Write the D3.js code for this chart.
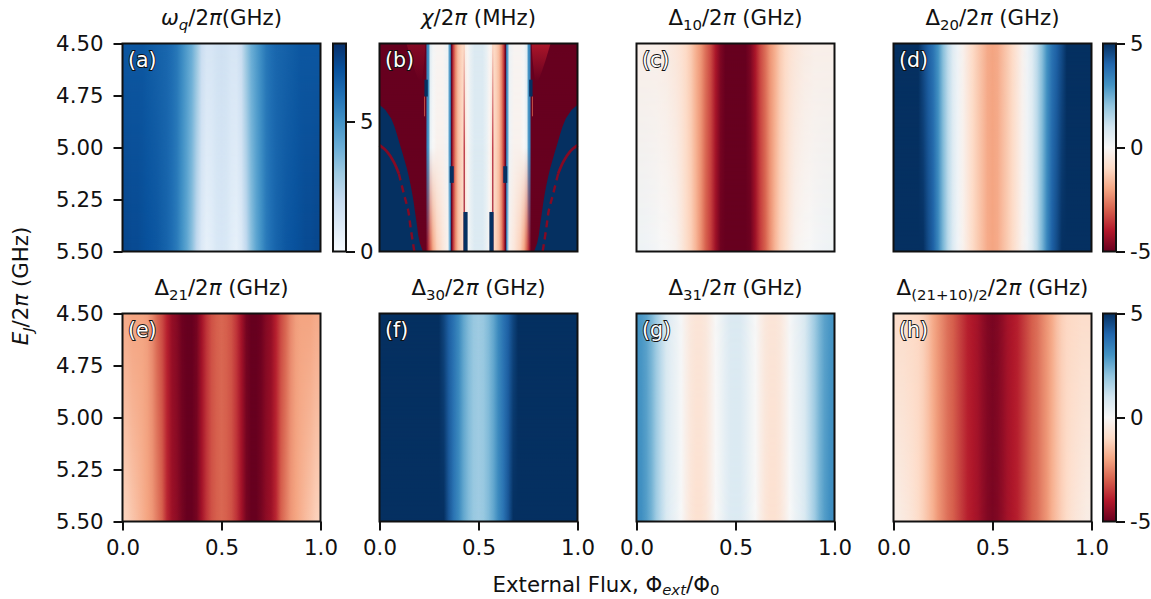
<!DOCTYPE html>
<html>
<head>
<meta charset="utf-8">
<script src="https://cdn.jsdelivr.net/npm/d3@7"></script>
<style>
  html, body { margin: 0; background: #fff; }
  svg { display: block; }
  text { font-family: "DejaVu Sans", sans-serif; fill: #111; }
</style>
</head>
<body>
<svg id="chart" width="1151" height="599"></svg>
<script>
// flux samples from 0 to 0.5, the pictures are mirrored around 0.5
const fluxGrid = [0, .025, .05, .075, .1, .125, .15, .175, .2, .225, .25, .275, .3, .325, .35, .375, .4, .425, .45, .475, .5];

const omegaTop = [6.8, 6.8, 6.8, 6.8, 6.8, 6.7, 6.6, 6.5, 6.4, 6.3, 6.1, 5.8, 5.2, 4.6, 4, 3.1, 1.8, 1.3, 1.3, 1.5, 1.6];
const omegaBottom = [7.3, 7.3, 7.2, 7.2, 7.1, 7, 6.9, 6.8, 6.6, 6.4, 6.1, 5.7, 5, 4.3, 3.4, 2.1, 1.1, .7, .9, 1.2, 1.3];

const d10Top = [-.3, -.3, -.3, -.3, -.3, -.35, -.4, -.5, -.6, -.75, -1, -1.3, -1.8, -2.2, -2.8, -3.3, -4.1, -4.7, -5, -5, -5];
const d10Bottom = [.25, .25, .2, .15, .1, 0, -.05, -.1, -.2, -.5, -.9, -1.2, -1.7, -2.3, -3, -3.5, -4.3, -4.9, -5, -5, -5];

const d20Top = [8, 8, 7.5, 6.5, 5.5, 5, 4.5, 4.1, 3.7, 3, 2.1, 1.3, .6, .2, -.2, -.6, -1, -1.3, -1.6, -1.9, -2];
const d20Bottom = [8, 8, 7.5, 6.5, 5.8, 5.3, 5, 4.5, 4.1, 3.3, 2.3, 1.4, .7, .2, -.2, -.6, -1, -1.3, -1.6, -1.9, -2];

const d21Top = [-1.9, -1.9, -2, -2, -2, -2.1, -2.4, -2.9, -3.3, -3.9, -4.4, -4.6, -4.9, -5, -5, -4.8, -4.2, -3.6, -3.2, -3, -2.9];
const d21Bottom = [-1.1, -1.2, -1.4, -1.6, -1.8, -2, -2.2, -2.6, -3, -3.8, -4.3, -4.5, -4.8, -5, -5, -4.8, -4.2, -3.6, -3.2, -3, -2.9];

const d30Top = [8, 8, 8, 8, 8, 8, 8, 8, 8, 8, 8, 7, 5.5, 4.6, 4.1, 3.7, 3.2, 2.6, 2.2, 1.9, 1.8];
const d30Bottom = [8, 8, 8, 8, 8, 8, 8, 8, 8, 8, 8, 7.5, 6, 5, 4.3, 3.7, 3.2, 2.6, 2.2, 1.9, 1.8];

const d31Top = [3, 2.9, 2.7, 2.3, 1.8, 1.3, .8, .5, .3, .05, -.3, -.55, -.65, -.65, -.55, -.3, 0, .25, .5, .7, .75];
const d31Bottom = [3.2, 3.1, 2.8, 2.4, 1.8, 1.3, .8, .5, .3, 0, -.35, -.65, -.8, -.8, -.65, -.35, 0, .25, .5, .7, .75];

const dAvgTop = [-.9, -.9, -.9, -.95, -1, -1.05, -1.2, -1.5, -1.9, -2.2, -2.5, -2.8, -3, -3.3, -3.6, -3.9, -4.05, -4.2, -4.45, -4.65, -4.75];
const dAvgBottom = [-.35, -.4, -.5, -.6, -.75, -.95, -1.2, -1.5, -1.8, -2.2, -2.5, -2.8, -3, -3.3, -3.6, -3.9, -4.05, -4.2, -4.45, -4.65, -4.75];

// chi has narrow lines, so it gets its own flux samples and a middle row
const chiFlux = [0, .228, .234, .24, .248, .256, .27, .29, .32, .345, .352, .358, .364, .372, .384, .396, .41, .422, .428, .434, .445, .46, .48, .5];
const chiTop = [-8, -8, -8, 3.4, 3, .6, .1, -.1, -.1, .3, 2.6, 3.4, -5, -3.6, -2.4, -1.6, -1.2, -1, -1.1, -.3, -.1, .4, .7, .7];
const chiMiddle = [-8, -8, -6, 3.4, 2.8, .4, 0, -.2, -.2, .2, 2.6, 3.4, -5, -3.6, -2.4, -1.6, -1.2, -1, -4, -.6, -.1, .4, .7, .7];
const chiBottom = [-8, -8, -5, -4.5, -3.6, -3, -2, -1.2, -.6, -.2, 1.8, 3.4, -5, -3.6, -2.4, -1.6, -1.2, -1, -4.5, -.6, -.1, .4, .7, .7];

// saturated blue area of chi, outer flanks
const chiBlueEj = [4.795, 4.82, 4.86, 4.9, 4.94, 4.98, 5.02, 5.06, 5.1, 5.14, 5.18, 5.22, 5.26, 5.3, 5.34, 5.38, 5.42, 5.46, 5.5];
const chiBlueFlux = [0, .03, .059, .076, .089, .101, .114, .126, .138, .148, .157, .165, .172, .178, .184, .19, .195, .204, .219];

// thin dark red arc inside the blue area
const chiArcEj = [4.989, 5.021, 5.069, 5.126, 5.223, 5.303, 5.384, 5.465, 5.5];
const chiArcFlux = [0, .039, .072, .098, .123, .145, .157, .17, .176];

// lighter fan at the top of chi
const chiFanEj = [4.5, 4.577, 4.64, 4.68];
const chiFanFrom = [.136, .16, .182, .199];
const chiFanTo = [.232, .227, .22, .215];
const chiFanLevels = [-4.6, -4.1];

// saturated vertical pieces, [flux from, flux to, EJ from, EJ to, value]
const chiBars = [
  [.227, .244, 4.674, 4.755, 20],
  [.226, .23, 4.755, 4.85, -3],
  [.355, .375, 5.09, 5.17, 20],
  [.424, .445, 5.31, 5.5, 20],
];

const ejTicks = [4.5, 4.75, 5, 5.25, 5.5];
const fluxTicks = [0, .5, 1];
const omegaTicks = [0, 5];
const deltaTicks = [-5, 0, 5];

const panels = [
  { tag: "(a)", col: 0, row: 0, map: "blues", flux: fluxGrid, rows: [[4.5, omegaTop], [5.5, omegaBottom]],
    title: [["ω", "i"], ["q", "is"], ["/2"], ["π", "i"], ["(GHz)"]] },
  { tag: "(b)", col: 1, row: 0, map: "rdbu", flux: chiFlux, rows: [[4.5, chiTop], [5, chiMiddle], [5.5, chiBottom]],
    title: [["χ", "i"], ["/2"], ["π", "i"], [" (MHz)"]] },
  { tag: "(c)", col: 2, row: 0, map: "rdbu", flux: fluxGrid, rows: [[4.5, d10Top], [5.5, d10Bottom]],
    title: [["Δ"], ["10", "s"], ["/2"], ["π", "i"], [" (GHz)"]] },
  { tag: "(d)", col: 3, row: 0, map: "rdbu", flux: fluxGrid, rows: [[4.5, d20Top], [5.5, d20Bottom]],
    title: [["Δ"], ["20", "s"], ["/2"], ["π", "i"], [" (GHz)"]] },
  { tag: "(e)", col: 0, row: 1, map: "rdbu", flux: fluxGrid, rows: [[4.5, d21Top], [5.5, d21Bottom]],
    title: [["Δ"], ["21", "s"], ["/2"], ["π", "i"], [" (GHz)"]] },
  { tag: "(f)", col: 1, row: 1, map: "rdbu", flux: fluxGrid, rows: [[4.5, d30Top], [5.5, d30Bottom]],
    title: [["Δ"], ["30", "s"], ["/2"], ["π", "i"], [" (GHz)"]] },
  { tag: "(g)", col: 2, row: 1, map: "rdbu", flux: fluxGrid, rows: [[4.5, d31Top], [5.5, d31Bottom]],
    title: [["Δ"], ["31", "s"], ["/2"], ["π", "i"], [" (GHz)"]] },
  { tag: "(h)", col: 3, row: 1, map: "rdbu", flux: fluxGrid, rows: [[4.5, dAvgTop], [5.5, dAvgBottom]],
    title: [["Δ"], ["(21+10)/2", "s"], ["/2"], ["π", "i"], [" (GHz)"]] },
];

const plotW = 198;
const plotH = 208;
const colX = [122.5, 379.5, 636.5, 893.5];
const rowY = [43.5, 313.5];
const fontSize = 21.3;

const svg = d3.select("#chart");
const defs = svg.append("defs");

// same piecewise linear ramps as the original colormaps
const rdbu = d3.scaleLinear().domain(d3.range(-5, 5.5, 1)).range(d3.schemeRdBu[11]).clamp(true);
const blues = d3.scaleLinear().domain(d3.range(0, 9, 1)).range(d3.schemeBlues[9]).clamp(true);
const maps = { rdbu, blues };

const x = d3.scaleLinear().domain([0, 1]).range([0, plotW]);
const y = d3.scaleLinear().domain([4.5, 5.5]).range([0, plotH]);

function mirrored(flux, values) {
  const pts = flux.map((f, i) => [f, values[i]]);
  const back = pts.slice(0, -1).reverse().map((p) => [1 - p[0], p[1]]);
  return pts.concat(back);
}

// writes title pieces, "i" italic, "s" subscript
function mathText(sel, pieces, size, drop = 0.25) {
  let lowered = false;
  pieces.forEach((p) => {
    const kind = p[1] || "";
    const sub = kind.includes("s");
    const ts = sel.append("tspan").text(p[0]);
    if (kind.includes("i")) ts.attr("font-style", "italic");
    if (sub && !lowered) ts.attr("dy", size * drop);
    if (!sub && lowered) ts.attr("dy", -size * drop);
    ts.attr("font-size", sub ? size * 0.7 : size);
    lowered = sub;
  });
}

function drawHeat(g, p, idx) {
  const color = maps[p.map];
  p.rows.forEach((row, r) => {
    const gradId = `heat-${idx}-${r}`;
    const grad = defs.append("linearGradient").attr("id", gradId)
      .attr("gradientUnits", "userSpaceOnUse")
      .attr("x1", 0).attr("x2", plotW).attr("y1", 0).attr("y2", 0);
    grad.selectAll("stop").data(mirrored(p.flux, row[1])).join("stop")
      .attr("offset", (d) => d[0])
      .attr("stop-color", (d) => color(d[1]));

    const rect = g.append("rect").attr("width", plotW).attr("height", plotH).attr("fill", `url(#${gradId})`);

    if (r > 0) {
      // fade this row in over the previous one
      const fadeId = `fade-${idx}-${r}`;
      const fade = defs.append("linearGradient").attr("id", fadeId)
        .attr("gradientUnits", "userSpaceOnUse")
        .attr("x1", 0).attr("x2", 0).attr("y1", y(p.rows[r - 1][0])).attr("y2", y(row[0]));
      fade.append("stop").attr("offset", 0).attr("stop-color", "#000");
      fade.append("stop").attr("offset", 1).attr("stop-color", "#fff");
      const maskId = `mask-${idx}-${r}`;
      defs.append("mask").attr("id", maskId)
        .attr("maskUnits", "userSpaceOnUse")
        .attr("x", 0).attr("y", 0).attr("width", plotW).attr("height", plotH)
        .append("rect").attr("width", plotW).attr("height", plotH).attr("fill", `url(#${fadeId})`);
      rect.attr("mask", `url(#${maskId})`);
    }
  });
}

function drawChiExtras(g) {
  [(f) => x(f), (f) => x(1 - f)].forEach((fx, side) => {
    const blue = d3.area().y((d) => y(d[0])).x0(fx(0)).x1((d) => fx(d[1]));
    g.append("path")
      .attr("d", blue(d3.zip(chiBlueEj, chiBlueFlux)))
      .attr("fill", rdbu(5));

    const arc = d3.line().x((d) => fx(d[1])).y((d) => y(d[0])).curve(d3.curveCatmullRom);
    const arcPts = d3.zip(chiArcEj, chiArcFlux);
    g.append("path").attr("d", arc(arcPts.slice(0, 4)))
      .attr("fill", "none").attr("stroke", rdbu(-4.6)).attr("stroke-width", 2.8);
    g.append("path").attr("d", arc(arcPts.slice(3)))
      .attr("fill", "none").attr("stroke", rdbu(-4.6)).attr("stroke-width", 2.4)
      .attr("stroke-dasharray", "7 5");

    // fan fades into the dark red going down, the right one is brighter
    const fanId = `fan-${side}`;
    const fanGrad = defs.append("linearGradient").attr("id", fanId)
      .attr("gradientUnits", "userSpaceOnUse")
      .attr("x1", 0).attr("x2", 0)
      .attr("y1", y(chiFanEj[0])).attr("y2", y(chiFanEj[chiFanEj.length - 1]));
    fanGrad.append("stop").attr("offset", 0).attr("stop-color", rdbu(chiFanLevels[side]));
    fanGrad.append("stop").attr("offset", 1).attr("stop-color", rdbu(-5));
    const fan = d3.area().y((d) => y(d[0])).x0((d) => fx(d[1])).x1((d) => fx(d[2]));
    g.append("path")
      .attr("d", fan(d3.zip(chiFanEj, chiFanFrom, chiFanTo)))
      .attr("fill", `url(#${fanId})`);

    g.selectAll(null).data(chiBars).join("rect")
      .attr("x", (d) => Math.min(fx(d[0]), fx(d[1])))
      .attr("width", (d) => Math.abs(fx(d[1]) - fx(d[0])))
      .attr("y", (d) => y(d[2]))
      .attr("height", (d) => y(d[3]) - y(d[2]))
      .attr("fill", (d) => rdbu(d[4]));
  });
}

function styleAxis(a) {
  a.selectAll("text").attr("font-size", fontSize).style("font-family", '"DejaVu Sans", sans-serif').attr("fill", "#111");
  a.selectAll("line").attr("stroke", "#111").attr("stroke-width", 2);
  a.select(".domain").remove();
}

panels.forEach((p, idx) => {
  const g = svg.append("g").attr("transform", `translate(${colX[p.col]},${rowY[p.row]})`);

  drawHeat(g, p, idx);
  if (p.tag === "(b)") drawChiExtras(g);

  g.append("rect").attr("width", plotW).attr("height", plotH)
    .attr("fill", "none").attr("stroke", "#111").attr("stroke-width", 2);

  g.append("text").attr("x", 5.5).attr("y", 23.5)
    .attr("font-size", 20.5)
    .style("fill", "#fff").attr("stroke", "#111").attr("stroke-width", 1.8)
    .attr("paint-order", "stroke")
    .text(p.tag);

  const title = g.append("text").attr("x", plotW / 2).attr("y", -18.5)
    .attr("text-anchor", "middle").attr("font-size", fontSize);
  mathText(title, p.title, fontSize);

  if (p.col === 0) {
    g.append("g")
      .call(d3.axisLeft(y).tickValues(ejTicks).tickFormat(d3.format(".2f")).tickSize(9).tickPadding(10))
      .call(styleAxis);
  }
  if (p.row === 1) {
    g.append("g").attr("transform", `translate(0,${plotH})`)
      .call(d3.axisBottom(x).tickValues(fluxTicks).tickFormat(d3.format(".1f")).tickSize(9).tickPadding(9))
      .call(styleAxis);
  }
});

function drawColorbar(left, top, color, domain, ticks, id) {
  const g = svg.append("g").attr("transform", `translate(${left},${top})`);
  const barW = 13;
  const scale = d3.scaleLinear().domain(domain).range([plotH, 0]);
  const grad = defs.append("linearGradient").attr("id", id)
    .attr("gradientUnits", "userSpaceOnUse")
    .attr("x1", 0).attr("x2", 0).attr("y1", plotH).attr("y2", 0);
  grad.selectAll("stop").data(color.domain()).join("stop")
    .attr("offset", (d) => (d - domain[0]) / (domain[1] - domain[0]))
    .attr("stop-color", (d) => color(d));
  g.append("rect").attr("width", barW).attr("height", plotH).attr("fill", `url(#${id})`)
    .attr("stroke", "#111").attr("stroke-width", 2);
  g.append("g").attr("transform", `translate(${barW},0)`)
    .call(d3.axisRight(scale).tickValues(ticks).tickFormat((d) => String(d)).tickSize(9).tickPadding(5))
    .call(styleAxis);
}

drawColorbar(333, rowY[0], blues, [0, 8], omegaTicks, "bar-a");
drawColorbar(1103, rowY[0], rdbu, [-5, 5], deltaTicks, "bar-d");
drawColorbar(1103, rowY[1], rdbu, [-5, 5], deltaTicks, "bar-h");

const yLabel = svg.append("text").attr("text-anchor", "middle").attr("font-size", fontSize)
  .attr("transform", "translate(28,286) rotate(-90)");
mathText(yLabel, [["E", "i"], ["J", "is"], ["/2"], ["π", "i"], [" (GHz)"]], fontSize);

const xLabel = svg.append("text").attr("text-anchor", "middle").attr("font-size", fontSize)
  .attr("x", 606).attr("y", 591.5);
mathText(xLabel, [["External Flux, Φ"], ["ext", "is"], ["/Φ"], ["0", "s"]], fontSize, 0.18);
</script>
</body>
</html>
